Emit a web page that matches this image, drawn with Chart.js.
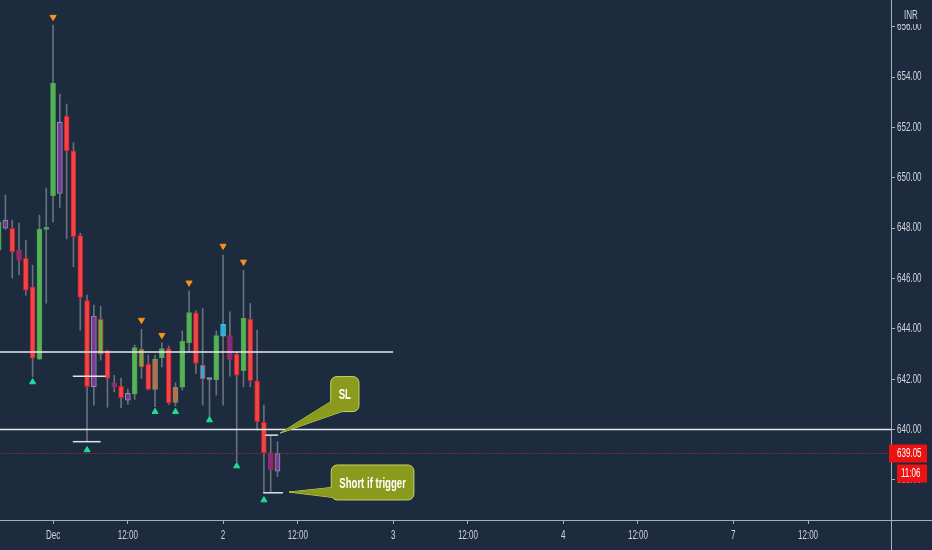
<!DOCTYPE html>
<html>
<head>
<meta charset="utf-8">
<script src="https://cdn.jsdelivr.net/npm/chart.js@4.4.1/dist/chart.umd.min.js"></script>
<style>
  html, body { margin: 0; padding: 0; background: #1c2b3d; }
  #wrap { width: 932px; height: 550px; }
</style>
</head>
<body>
<div id="wrap"><canvas id="c" width="932" height="550"></canvas></div>
<script>
// 15-minute bars, index 0 = 1 Dec 09:15
const barIdx = [-8,-7,-6,-5,-4,-3,-2,-1,0,1,2,3,4,5,6,7,8,9,10,11,12,13,14,15,16,17,18,19,20,21,22,23,24,25,26,27,28,29,30,31,32,33];
const openP  = [647.13,648.00,647.99,647.13,646.81,645.67,642.80,647.95,649.29,652.20,652.45,651.07,647.70,645.12,641.70,644.38,643.13,641.86,641.73,641.17,641.41,643.20,642.60,642.79,642.85,643.22,641.08,641.68,643.45,644.64,642.56,641.99,641.97,643.71,643.73,643.00,642.34,644.39,641.94,640.29,639.08,638.35];
const highP  = [648.52,649.31,648.32,648.20,647.53,646.53,648.52,649.59,656.06,653.32,652.93,651.39,647.80,645.34,644.94,644.90,643.16,642.16,642.05,641.61,643.36,643.98,642.96,642.96,643.45,643.32,641.86,643.92,645.51,644.72,644.81,642.02,643.92,646.93,644.68,643.08,646.33,645.01,643.95,640.97,639.78,639.52];
const lowP   = [646.93,647.95,646.02,646.14,645.34,642.10,642.78,645.02,648.25,648.82,647.57,646.47,643.95,639.52,640.97,642.76,640.89,641.50,640.87,641.01,641.20,642.03,641.57,640.91,642.49,641.00,640.93,641.57,643.08,642.23,640.97,640.51,641.37,640.97,642.12,638.72,641.70,641.70,639.98,637.49,637.53,638.13];
const closeP = [648.25,648.32,647.06,646.73,645.54,642.84,647.96,647.97,653.76,649.38,651.07,647.66,645.25,641.70,644.51,643.00,642.03,641.70,641.26,641.44,643.26,642.49,641.60,641.60,643.22,641.06,641.68,643.51,644.65,642.63,642.01,642.00,643.73,644.18,642.79,642.16,644.42,641.94,640.31,639.08,638.39,639.05];
const candleKind = ['G','P','R','M','R','R','G','G','G','P','R','R','R','R','P','O','R','M','R','P','G','O','R','S','G','R','S','G','G','R','C','D','G','T','M','R','G','R','R','R','M','P'];

const tickIdx  = [0, 11, 25, 36, 50, 61, 75, 86, 100, 111];
const tickText = ['Dec', '12:00', '2', '12:00', '3', '12:00', '4', '12:00', '7', '12:00'];
const priceTicks = [638, 640, 642, 644, 646, 648, 650, 652, 654, 656];

const swingHighIdx = [0, 13, 16, 20, 25, 28];
const swingHighY   = [656.38, 644.35, 643.75, 645.83, 647.29, 646.66];
const swingLowIdx  = [-3, 5, 15, 18, 23, 27, 31];
const swingLowY    = [641.89, 639.19, 640.71, 640.71, 640.38, 638.55, 637.20];

const supportLevel = 643.08, supportEnd = 50;
const slLevel = 640.00;
const lastPrice = 639.05;
const barCountdown = '11:06';
const markLevel = [642.12, 639.52, 639.78, 637.49];
const markFrom  = [2.9, 2.9, 31.2, 30.9];
const markTo    = [7.7, 7.0, 33.1, 33.8];

const noteText = ['SL', 'Short if trigger'];
const noteX    = [42.9, 46.98];
const noteY    = [641.41, 637.90];
const noteTipX = [33.4, 34.7];
const noteTipY = [639.86, 637.52];

const BG = '#1c2b3d';
const AXIS = '#a9b0bd';
const TXT = '#d1d4dc';
const FONT = "'Liberation Sans', Arial, sans-serif";
const SQUEEZE = 0.67;
const kindStyle = {
  G: ['#55b257', '#4aa34c'],
  R: ['#f0464a', '#c81e24'],
  P: ['#7b3a99', '#8e93a3'],
  M: ['#7b2f8e', '#c02030'],
  O: ['#6aaa50', '#c03a2a'],
  S: ['#b8704c', '#8a8a60'],
  C: ['#2ab0d8', '#d03040'],
  T: ['#2ab0d8', '#3cc0e0'],
  D: ['#9aa0aa', '#9aa0aa']
};

const xMin = -7.8, xMax = 123.2;
const yMin = 636.41, yMax = 657.06;

function hline(y, x0, x1, color, width, dash) {
  return {
    type: 'line',
    data: [{ x: x0, y: y }, { x: x1, y: y }],
    borderColor: color, borderWidth: width, borderDash: dash || [],
    pointRadius: 0, fill: false, order: 0
  };
}

// narrow text like the TradingView axis font
function narrowText(ctx, text, x, y, align, sx) {
  ctx.save();
  ctx.translate(x, y);
  ctx.scale(sx, 1);
  ctx.textAlign = align;
  ctx.fillText(text, 0, 0);
  ctx.restore();
}

const overlay = {
  id: 'overlay',
  afterDatasetsDraw(chart) {
    const ctx = chart.ctx, xs = chart.scales.x, ys = chart.scales.y;
    ctx.save();
    noteText.forEach((t, k) => {
      ctx.font = 'bold 15px ' + FONT;
      const sx = 0.64;
      const w = ctx.measureText(t).width * sx + 16, h = 35;
      const cx = xs.getPixelForValue(noteX[k]), cy = ys.getPixelForValue(noteY[k]);
      const bx = cx - w / 2, by = cy - h / 2;
      const tx = xs.getPixelForValue(noteTipX[k]), ty = ys.getPixelForValue(noteTipY[k]);
      const wedge = () => {
        ctx.beginPath();
        ctx.moveTo(bx + 5, by + h - 13);
        ctx.lineTo(tx, ty);
        ctx.lineTo(bx + 14, by + h - 1);
        ctx.closePath();
      };
      ctx.fillStyle = '#8a9a1c';
      ctx.strokeStyle = '#c9d36a';
      ctx.lineWidth = 1;
      wedge(); ctx.fill(); ctx.stroke();
      ctx.beginPath();
      ctx.roundRect(bx, by, w, h, 6);
      ctx.fill(); ctx.stroke();
      wedge(); ctx.fill();
      ctx.fillStyle = '#ffffff';
      ctx.textBaseline = 'middle';
      narrowText(ctx, t, cx, cy + 1, 'center', sx);
    });
    ctx.restore();
  },
  afterDraw(chart) {
    const ctx = chart.ctx, a = chart.chartArea, xs = chart.scales.x, ys = chart.scales.y;
    ctx.save();
    ctx.strokeStyle = AXIS;
    ctx.lineWidth = 1;
    ctx.beginPath();
    ctx.moveTo(Math.round(a.right) + 0.5, 0);
    ctx.lineTo(Math.round(a.right) + 0.5, chart.height);
    ctx.moveTo(0, Math.round(a.bottom) + 0.5);
    ctx.lineTo(chart.width, Math.round(a.bottom) + 0.5);
    ctx.stroke();

    ctx.font = '12px ' + FONT;
    ctx.textBaseline = 'middle';
    ctx.fillStyle = TXT;
    priceTicks.forEach(v => narrowText(ctx, v.toFixed(2), a.right + 6, ys.getPixelForValue(v), 'left', SQUEEZE));
    tickIdx.forEach((v, k) => narrowText(ctx, tickText[k], xs.getPixelForValue(v), a.bottom + 16, 'center', SQUEEZE));

    const py = ys.getPixelForValue(lastPrice);
    ctx.fillStyle = '#ee1111';
    ctx.fillRect(a.right - 2, py - 9, 38, 18);
    ctx.fillRect(a.right + 6, py + 11, 30, 18);
    ctx.fillStyle = '#ffffff';
    narrowText(ctx, lastPrice.toFixed(2), a.right + 6, py, 'left', SQUEEZE);
    narrowText(ctx, barCountdown, a.right + 10, py + 20, 'left', SQUEEZE);

    // currency badge sits over the top price label
    ctx.fillStyle = BG;
    ctx.fillRect(a.right + 5, 6, 34, 18);
    ctx.fillStyle = TXT;
    narrowText(ctx, 'INR', a.right + 20, 16, 'center', SQUEEZE);
    ctx.restore();
  }
};

const datasets = [
  {
    type: 'bar',
    data: barIdx.map((x, k) => ({ x: x, y: [lowP[k], highP[k]] })),
    backgroundColor: '#66717f',
    barThickness: 1, grouped: false, order: 3
  },
  {
    type: 'bar',
    data: barIdx.map((x, k) => ({ x: x, y: [openP[k], closeP[k]] })),
    backgroundColor: candleKind.map(c => kindStyle[c][0]),
    borderColor: candleKind.map(c => kindStyle[c][1]),
    borderWidth: 1, borderSkipped: false,
    barThickness: 5, minBarLength: 2, grouped: false, order: 2
  },
  hline(supportLevel, -8, supportEnd, '#e6e9ef', 1.5),
  hline(slLevel, -8, 124, '#e6e9ef', 1.5),
  hline(lastPrice, -8, 124, '#d32f2f', 1, [1, 2])
];
markLevel.forEach((lv, k) => datasets.push(hline(lv, markFrom[k], markTo[k], '#dfe3ea', 1.5)));
datasets.push({
  type: 'scatter',
  data: swingHighIdx.map((x, k) => ({ x: x, y: swingHighY[k] })),
  pointStyle: 'triangle', rotation: 180, pointRadius: 3.5,
  backgroundColor: '#f7931a', borderColor: '#f7931a', order: 1
});
datasets.push({
  type: 'scatter',
  data: swingLowIdx.map((x, k) => ({ x: x, y: swingLowY[k] })),
  pointStyle: 'triangle', pointRadius: 3.5,
  backgroundColor: '#1fdc9a', borderColor: '#1fdc9a', order: 1
});

new Chart(document.getElementById('c'), {
  type: 'bar',
  data: { datasets: datasets },
  options: {
    responsive: false,
    animation: false,
    layout: { padding: 0, autoPadding: false },
    plugins: { legend: { display: false }, tooltip: { enabled: false } },
    scales: {
      x: {
        type: 'linear', min: xMin, max: xMax, offset: false,
        grid: { drawOnChartArea: false, drawTicks: true, tickLength: 4, color: AXIS, offset: false },
        border: { display: false },
        ticks: { display: false },
        afterBuildTicks: s => { s.ticks = tickIdx.map(v => ({ value: v })); },
        afterFit: s => { s.height = 30; s.paddingLeft = 0; s.paddingRight = 0; }
      },
      y: {
        type: 'linear', position: 'right', min: yMin, max: yMax,
        grid: { drawOnChartArea: false, drawTicks: true, tickLength: 4, color: AXIS },
        border: { display: false },
        ticks: { display: false },
        afterBuildTicks: s => { s.ticks = priceTicks.map(v => ({ value: v })); },
        afterFit: s => { s.width = 41; s.paddingTop = 0; s.paddingBottom = 0; }
      }
    }
  },
  plugins: [overlay]
});
</script>
</body>
</html>
